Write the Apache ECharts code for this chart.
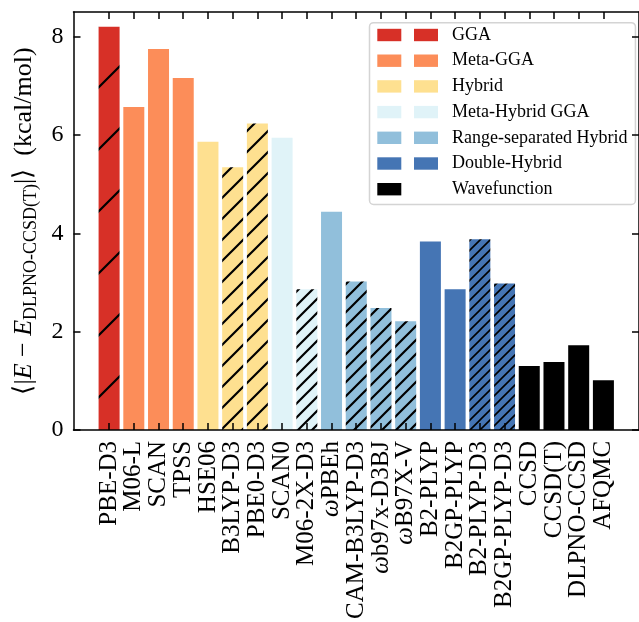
<!DOCTYPE html>
<html>
<head>
<meta charset="utf-8">
<script src="https://cdn.jsdelivr.net/npm/echarts@6/dist/echarts.min.js"></script>
<style>
  html, body { margin: 0; padding: 0; background: #fff; }
  #chart { width: 639px; height: 622px; }
</style>
</head>
<body>
<div id="chart"></div>
<script>
// data
const labels = ['PBE-D3', 'M06-L', 'SCAN', 'TPSS', 'HSE06', 'B3LYP-D3', 'PBE0-D3', 'SCAN0', 'M06-2X-D3',
  'ωPBEh', 'CAM-B3LYP-D3', 'ωb97x-D3BJ', 'ωB97X-V', 'B2-PLYP', 'B2GP-PLYP', 'B2-PLYP-D3', 'B2GP-PLYP-D3',
  'CCSD', 'CCSD(T)', 'DLPNO-CCSD', 'AFQMC'];
const values = [8.20, 6.57, 7.75, 7.16, 5.86, 5.34, 6.23, 5.94, 2.86,
  4.44, 3.02, 2.48, 2.21, 3.83, 2.86, 3.88, 2.98,
  1.30, 1.38, 1.72, 1.01];
const groupOf = [0, 1, 1, 1, 2, 2, 2, 3, 3, 4, 4, 4, 4, 5, 5, 5, 5, 6, 6, 6, 6];
const hatched = [1, 0, 0, 0, 0, 1, 1, 0, 1, 0, 1, 1, 1, 0, 0, 1, 1, 0, 0, 0, 0];
const groupNames = ['GGA', 'Meta-GGA', 'Hybrid', 'Meta-Hybrid GGA', 'Range-separated Hybrid', 'Double-Hybrid', 'Wavefunction'];
const yTicks = [0, 2, 4, 6, 8];

// styles
const groupColors = ['#d73027', '#fc8d59', '#fee090', '#e0f3f8', '#91bfdb', '#4575b4', '#000000'];
// hatch spacing (px) per bar, only used where hatched
const hatchGap = [62, 0, 0, 0, 0, 21, 21, 0, 14, 0, 14, 14, 14, 0, 0, 10, 10, 0, 0, 0, 0];
const FONT = 'Liberation Serif';

// diagonal "/" hatch pattern on a base colour
function hatch(color, s, lw) {
  const c = document.createElement('canvas');
  c.width = s; c.height = s;
  const ctx = c.getContext('2d');
  ctx.fillStyle = color;
  ctx.fillRect(0, 0, s, s);
  ctx.strokeStyle = '#000';
  ctx.lineWidth = lw;
  ctx.beginPath();
  ctx.moveTo(-2, s + 2); ctx.lineTo(s + 2, -2);
  ctx.moveTo(-2, 2); ctx.lineTo(2, -2);
  ctx.moveTo(s - 2, s + 2); ctx.lineTo(s + 2, s - 2);
  ctx.stroke();
  return { image: c, repeat: 'repeat' };
}

const idx = labels.map((_, i) => i);
const evenIdx = idx.filter(i => i % 2 === 0);
const oddIdx = idx.filter(i => i % 2 === 1);

const series = groupNames.map((name, g) => ({
  name: name,
  type: 'bar',
  barWidth: 21,
  barGap: '-100%',
  itemStyle: { color: groupColors[g] },
  data: idx.filter(i => groupOf[i] === g).map(i => {
    const item = { value: [i, values[i]] };
    if (hatched[i]) {
      item.itemStyle = { color: hatch(groupColors[g], hatchGap[i], hatchGap[i] > 12 ? 2.2 : 1.6) };
    }
    return item;
  })
}));

const chart = echarts.init(document.getElementById('chart'), null, { renderer: 'canvas' });

const axisLine = { show: true, onZero: false, lineStyle: { color: '#000', width: 1.5 } };
const tickStyle = { show: true, inside: true, length: 7, lineStyle: { color: '#000', width: 1.5 } };

// bottom labels, split over two axes so neighbours never get hidden
function labelStyle(vals) {
  return {
    customValues: vals, rotate: 90, margin: 11,
    showMinLabel: true, showMaxLabel: true, hideOverlap: false,
    fontFamily: FONT, fontSize: 25, color: '#000',
    formatter: v => {
      const s = labels[Math.round(v)];
      return s.startsWith('ω') ? '{w|ω}{t|' + s.slice(1) + '}' : '{t|' + s + '}';
    },
    rich: {
      w: { fontFamily: FONT, fontSize: 25, fontStyle: 'italic', color: '#000' },
      t: { fontFamily: FONT, fontSize: 25, color: '#000' }
    }
  };
}

chart.setOption({
  animation: false,
  textStyle: { fontFamily: FONT },
  grid: { left: 73.5, top: 12, width: 572, height: 419 },
  legend: [
    {
      // first column of swatches
      orient: 'vertical',
      left: 377.3, top: 26, padding: 0, z: 20,
      itemWidth: 24, itemHeight: 12.4, itemGap: 7.7, icon: 'rect',
      selectedMode: false,
      data: groupNames,
      formatter: () => ' ',
      textStyle: { fontSize: 18, lineHeight: 18 }
    },
    {
      // second column + names, with the box
      orient: 'vertical',
      left: 369.5, top: 22.7, padding: [3.3, 8, 6.3, 44.5], z: 10,
      itemWidth: 24, itemHeight: 12.4, itemGap: 7.7, icon: 'rect',
      selectedMode: false,
      backgroundColor: '#fff', borderColor: '#d4d4d4', borderWidth: 1.5, borderRadius: 4,
      data: groupNames.map(n => n === 'Wavefunction' ? { name: n, itemStyle: { opacity: 0 } } : n),
      textStyle: { fontFamily: FONT, fontSize: 18, lineHeight: 18, color: '#000', padding: [0, 0, 0, 9] }
    }
  ],
  xAxis: [
    {
      type: 'value', position: 'bottom', min: -1.44, max: 21.44, z: 10,
      axisLine: axisLine,
      axisTick: Object.assign({ customValues: idx }, tickStyle),
      splitLine: { show: false },
      axisLabel: labelStyle(evenIdx)
    },
    {
      type: 'value', position: 'top', min: -1.44, max: 21.44, z: 10,
      axisLine: axisLine,
      axisTick: Object.assign({ customValues: idx }, tickStyle),
      axisLabel: { show: false },
      splitLine: { show: false }
    },
    {
      type: 'value', position: 'bottom', offset: 0, min: -1.44, max: 21.44, z: 10,
      axisLine: { show: false },
      axisTick: { show: false },
      splitLine: { show: false },
      axisLabel: labelStyle(oddIdx)
    }
  ],
  yAxis: [
    {
      type: 'value', position: 'left', min: 0, max: 8.5, z: 10,
      axisLine: axisLine,
      axisTick: Object.assign({ customValues: yTicks }, tickStyle),
      splitLine: { show: false },
      axisLabel: {
        customValues: yTicks, margin: 10, showMinLabel: true, showMaxLabel: true,
        fontFamily: FONT, fontSize: 24, color: '#000'
      },
      name: '{n|⟨|}{e|E}{n| − }{e|E}{s|DLPNO-CCSD(T)}{n||⟩  (kcal/mol)}',
      nameLocation: 'middle', nameGap: 31, nameRotate: 90,
      nameTextStyle: {
        rich: {
          n: { fontFamily: FONT, fontSize: 26, lineHeight: 26, verticalAlign: 'top', color: '#000' },
          e: { fontFamily: FONT, fontSize: 26, lineHeight: 26, verticalAlign: 'top', fontStyle: 'italic', color: '#000' },
          s: { fontFamily: FONT, fontSize: 18, lineHeight: 18, verticalAlign: 'top', padding: [11, 0, 0, 0], color: '#000' }
        }
      }
    },
    {
      type: 'value', position: 'right', min: 0, max: 8.5, z: 10,
      axisLine: axisLine,
      axisTick: Object.assign({ customValues: yTicks }, tickStyle),
      axisLabel: { show: false },
      splitLine: { show: false }
    }
  ],
  series: series
});
</script>
</body>
</html>
